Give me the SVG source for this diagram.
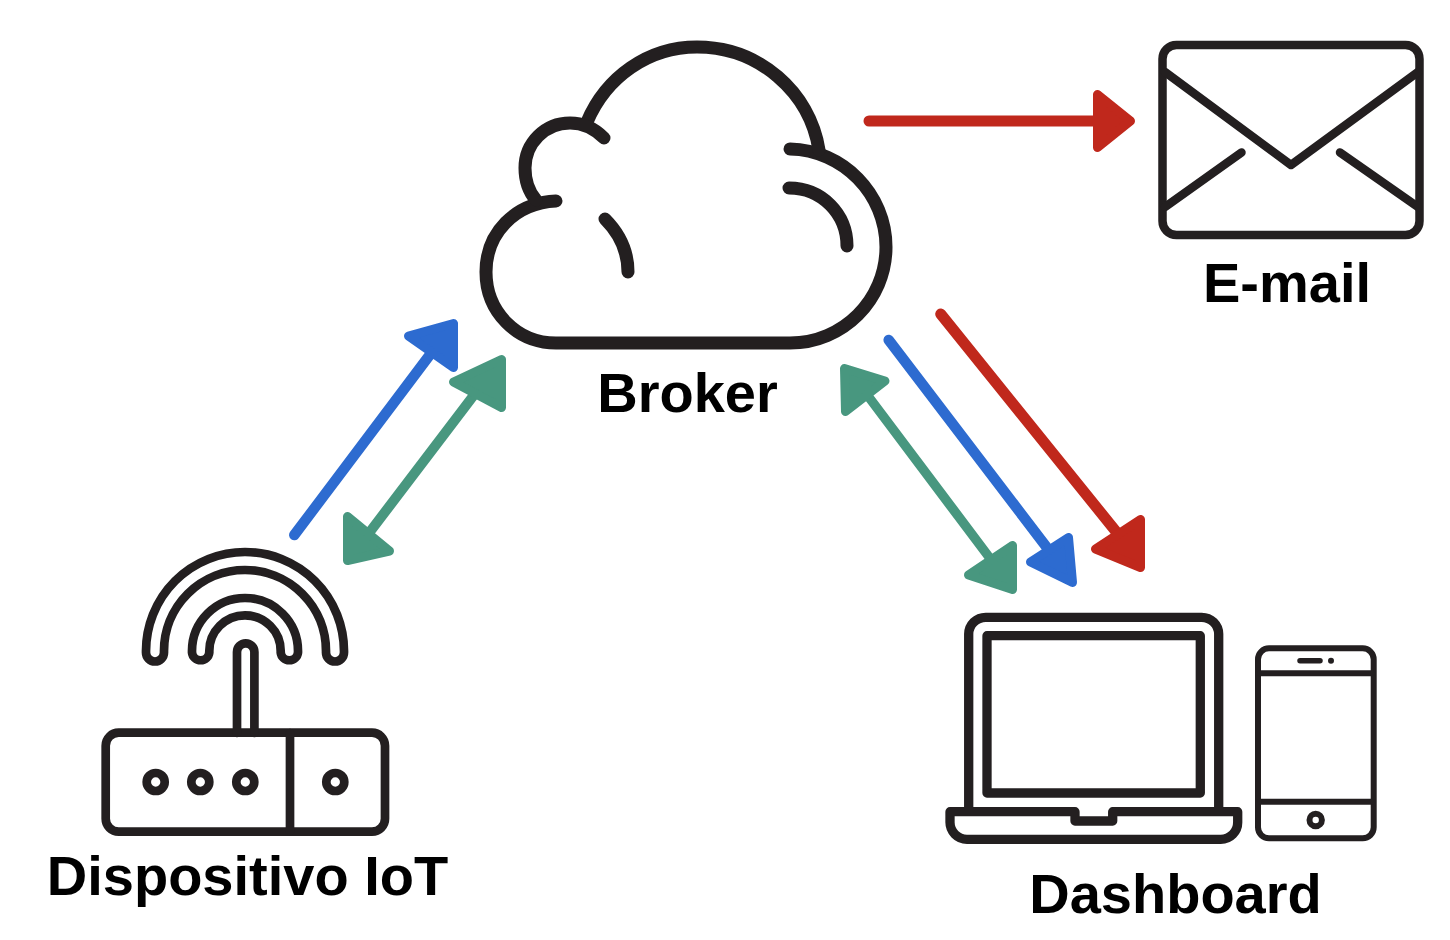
<svg xmlns="http://www.w3.org/2000/svg" width="1450" height="940" viewBox="0 0 1450 940">
<style>
.i{fill:none;stroke:#231f20;stroke-linecap:round;stroke-linejoin:round}
.t{font-family:"Liberation Sans",Arial,sans-serif;font-weight:700;font-size:56px;fill:#000}
.l{fill:none;stroke-linecap:round}
.r{stroke:#c0281c;fill:#c0281c}
.b{stroke:#2d6bd0;fill:#2d6bd0}
.g{stroke:#48977f;fill:#48977f}
.h{stroke-width:9;stroke-linejoin:round}
</style>
<rect width="1450" height="940" fill="#fff"/>
<g id="broker">
<g class="i" stroke-width="13">
<path d="M556 201C515 203 486 233 486 272C486 312 517 343 556 343H790C843 343 886 300 886 247C886 194 843 150 790 149"/>
<path d="M587 122C606 77 648 47 697 47C759 47 810 92 819 150"/>
<path d="M604 138C595 129 583 123 570 123C545 123 525 143 525 168C525 181 529 192 536 200"/>
<path d="M789 188C822 188 847 214 847 246"/>
<path d="M605 219C619 233 628 251 628 272"/>
</g>
<text class="t" x="687.500" y="412" text-anchor="middle">Broker</text>
</g>
<g id="email">
<g class="i" stroke-width="8.500">
<rect x="1162.500" y="45" width="257" height="190" rx="14"/>
<path d="M1165 72L1291 165L1418 72"/>
<path d="M1165 207L1241.500 152.500"/>
<path d="M1340 152.500L1418 207"/>
</g>
<text class="t" x="1287" y="302" text-anchor="middle">E-mail</text>
</g>
<g id="iot">
<g class="i" stroke-width="8.700">
<rect x="105.700" y="732.700" width="279.300" height="99" rx="13"/>
<path d="M290 733V831"/>
<circle cx="155.700" cy="782" r="9"/>
<circle cx="200.300" cy="782" r="9"/>
<circle cx="245.300" cy="782" r="9"/>
<circle cx="335.300" cy="782" r="9"/>
<path d="M237 733V652A8.700 8.700 0 0 1 254.400 652V733"/>
<path d="M146 651A99 99 0 0 1 344 651V652.500A9 9 0 0 1 326 652.500V651A81 81 0 0 0 164 651V652.500A9 9 0 0 1 146 652.500Z"/>
<path d="M192 651A53 53 0 0 1 298 651V652.500A8.700 8.700 0 0 1 280.700 652.500V651A35.700 35.700 0 0 0 209.300 651V652.500A8.700 8.700 0 0 1 192 652.500Z"/>
</g>
<text class="t" x="247.500" y="895" text-anchor="middle">Dispositivo IoT</text>
</g>
<g id="dashboard">
<g class="i" stroke-width="9.300">
<path d="M968.700 811V634A17 17 0 0 1 985.700 617.300H1201.700A17 17 0 0 1 1218.700 634V811"/>
<rect x="987" y="635.700" width="213.300" height="157.300"/>
<path d="M950 811.700H1075V821H1112.700V811.700H1237.700V822A17 17 0 0 1 1220.700 839.300H967A17 17 0 0 1 950 822Z"/>
</g>
<g class="i" stroke-width="6">
<rect x="1258" y="648.300" width="115.700" height="190" rx="11"/>
<path d="M1260 673.300H1371.700M1260 801.700H1371.700"/>
<circle cx="1315.700" cy="820" r="6.200"/>
<path d="M1300 660.700H1320" stroke-width="5.500"/>
</g>
<circle cx="1331" cy="660.700" r="3" fill="#231f20"/>
<text class="t" x="1175.500" y="913" text-anchor="middle">Dashboard</text>
</g>
<g id="connectors">
<path class="l r" stroke-width="11" d="M869 121H1100"/>
<path class="r h" d="M1097.500 94.500V147.500L1130.500 121Z"/>
<path class="l r" stroke-width="11" d="M940.700 314L1118 534"/>
<path class="r h" d="M1140.500 519.500V567.500L1095.500 549Z"/>
<path class="l b" stroke-width="10.500" d="M888.700 340L1048 549"/>
<path class="b h" d="M1068.500 537.500L1072.500 582.500L1030.500 562Z"/>
<path class="l g" stroke-width="9.500" d="M865 392L995 565"/>
<path class="g h" d="M844.500 368.500L885 381L845.500 411.500Z"/>
<path class="g h" d="M1012.500 545.500V589.500L968.500 575Z"/>
<path class="l b" stroke-width="10.500" d="M294.300 535L432 352"/>
<path class="b h" d="M453.500 323.500V367.500L408.500 336Z"/>
<path class="l g" stroke-width="10" d="M366 537L477 391"/>
<path class="g h" d="M501.500 359.500V407.500L453.500 382Z"/>
<path class="g h" d="M347.500 516.500V560.500L389.500 551Z"/>
</g>
</svg>
